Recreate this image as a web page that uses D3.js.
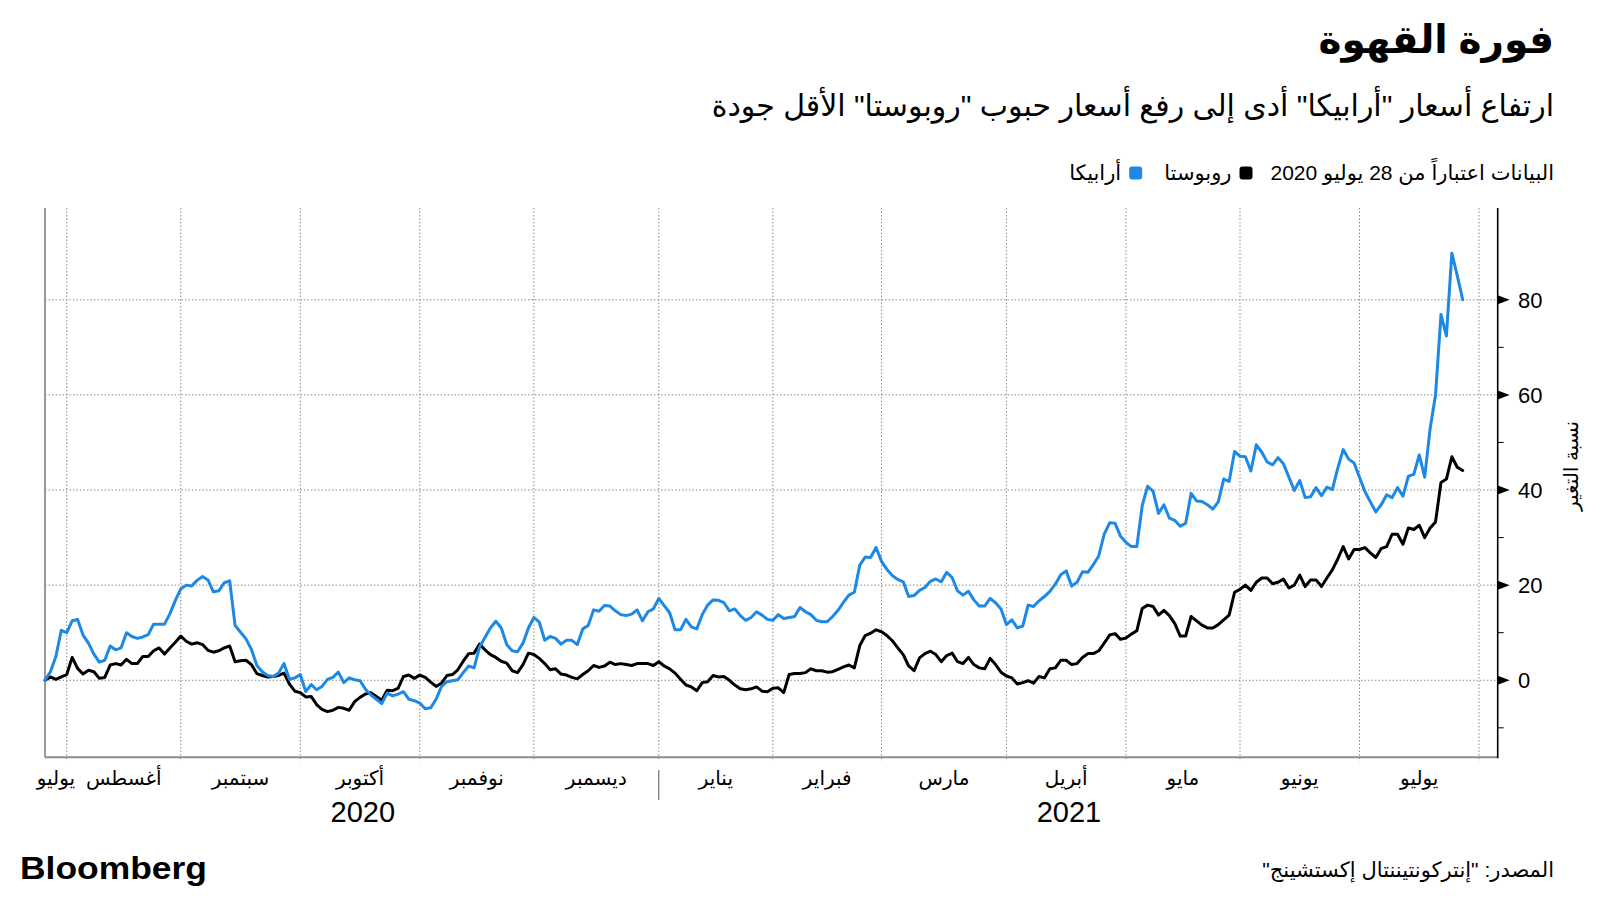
<!DOCTYPE html>
<html><head><meta charset="utf-8">
<script src="https://cdn.jsdelivr.net/npm/d3@7"></script>
<style>
body{margin:0;background:#fff}
svg{display:block}
text{font-family:"Liberation Sans","DejaVu Sans",sans-serif;fill:#000}
</style>
</head><body>
<svg id="chart" width="1600" height="900"></svg>
<script>
// ---------------- data ----------------
const startDate = "2020-07-28";
const endDate = "2021-08-03";
const arabica = [0,1.8,5.0,10.5,10.0,12.5,12.8,9.5,7.8,5.5,
3.8,4.2,7.2,6.4,6.8,10.0,9.2,8.8,9.1,9.6,
11.8,11.8,11.8,14.0,16.8,19.2,20.0,19.8,21.0,21.8,
21.1,18.6,18.8,20.5,20.9,11.5,10.1,8.7,6.5,3.1,
1.8,1.0,0.8,1.5,3.5,0.2,0.5,1.2,-2.4,-0.9,
-2.0,-1.3,0.2,0.6,1.7,-0.5,0.5,0.1,-0.1,-1.9,
-3.1,-4.0,-4.9,-2.7,-3.3,-2.9,-2.4,-4.0,-4.3,-4.8,
-6.0,-5.8,-4.0,-1.3,-0.3,-0.1,0.1,1.6,3.0,2.6,
7.0,9.0,11.0,12.4,11.0,7.5,6.2,6.0,7.8,11.0,
13.2,12.2,8.4,9.2,8.8,7.6,8.4,8.4,7.5,10.8,
11.5,14.8,14.5,15.7,15.6,14.6,13.8,13.6,13.9,14.8,
12.5,14.4,15.0,17.2,15.7,14.2,10.6,10.6,12.8,11.2,
10.8,13.8,15.8,16.9,16.8,16.3,14.6,15.0,13.6,12.6,
13.2,14.4,13.7,12.8,12.6,13.8,13.0,13.2,13.4,15.3,
14.4,13.8,12.6,12.3,12.3,13.4,14.7,16.4,17.9,18.5,
24.2,25.9,25.8,27.9,25.0,23.3,22.0,21.2,20.7,17.6,
17.8,18.9,19.5,20.8,21.3,20.7,22.7,21.6,18.8,17.9,
18.7,16.9,15.6,15.6,17.2,16.3,15.0,11.7,12.7,11.0,
11.4,15.8,15.5,16.7,17.6,18.7,20.2,22.2,23.0,19.8,
20.6,22.8,22.7,24.3,26.2,30.7,33.1,33.0,30.3,29.0,
28.1,28.1,36.7,40.8,39.7,35.1,36.9,34.1,33.6,32.4,
33.0,39.3,37.7,37.6,36.9,36.0,37.5,42.3,41.8,48.1,
47.1,47.0,44.0,49.5,48.0,45.9,45.3,46.8,45.5,42.7,
39.9,42.0,38.4,38.6,40.5,38.8,40.6,40.1,44.6,48.5,
46.5,45.7,42.7,39.7,37.5,35.4,36.9,39.0,38.4,40.5,
38.7,42.9,43.3,47.4,42.7,52.9,60.0,76.9,72.4,89.8,
85.1,80.0];
const robusta = [0,0.7,0.2,0.7,1.2,4.8,2.5,1.3,2.1,1.8,
0.4,0.6,3.2,3.5,3.2,4.4,3.5,3.5,5.0,5.0,
6.2,6.8,5.5,6.8,8.0,9.3,8.2,7.6,7.9,7.5,
6.3,5.9,6.2,6.8,7.2,3.9,4.1,4.2,3.3,1.4,
1.0,0.7,0.8,1.0,1.5,-0.8,-2.3,-2.6,-3.5,-3.4,
-5.1,-6.1,-6.6,-6.3,-5.7,-5.9,-6.3,-4.5,-3.6,-2.9,
-2.6,-3.4,-4.2,-2.1,-2.2,-1.7,0.8,1.1,0.4,1.1,
0.6,-0.4,-1.3,-0.6,1.0,1.2,2.2,4.0,5.6,5.7,
7.6,6.4,5.4,4.8,4.0,3.6,2.0,1.6,3.3,5.7,
5.4,4.6,3.5,2.2,2.4,1.3,1.1,0.6,0.3,1.2,
2.0,3.1,2.7,3.0,3.8,3.3,3.5,3.3,3.1,3.5,
3.5,3.5,3.1,3.9,3.0,2.4,1.5,0.2,-1.0,-1.4,
-2.2,-0.5,-0.3,1.0,0.7,0.8,0.0,-1.0,-1.8,-2.0,
-1.8,-1.4,-2.3,-2.4,-1.7,-1.6,-2.6,1.2,1.4,1.4,
1.6,2.4,2.0,2.0,1.7,1.8,2.3,2.8,3.2,2.6,
7.3,9.4,9.9,10.6,10.2,9.4,8.3,6.8,5.4,3.0,
2.0,4.7,5.6,6.1,5.4,3.9,5.2,5.7,3.9,3.5,
4.8,3.3,2.6,2.4,4.6,3.3,1.7,0.9,0.5,-0.8,
-0.5,-0.1,-0.6,0.8,0.5,2.4,2.6,4.2,4.2,3.3,
3.5,4.8,5.6,5.6,6.2,7.8,9.5,9.8,8.6,8.9,
9.7,10.4,15.1,15.8,15.5,13.7,14.7,13.6,11.9,9.3,
9.3,13.4,12.5,11.6,11.0,11.0,11.7,12.7,13.7,18.5,
19.1,20.0,18.9,20.6,21.5,21.5,20.3,20.6,21.3,19.4,
20.0,22.1,19.7,21.1,21.1,19.7,21.5,23.2,25.5,28.1,
25.5,27.5,27.5,27.9,26.8,25.8,27.7,28.1,30.7,30.7,
28.6,32.0,31.7,32.6,30.0,32.0,33.3,41.6,42.3,47.0,
44.8,44.1];
const monthStarts = ["2020-08-01","2020-09-01","2020-10-01","2020-11-01","2020-12-01","2021-01-01",
  "2021-02-01","2021-03-01","2021-04-01","2021-05-01","2021-06-01","2021-07-01","2021-08-01"];
const monthLabels = ["يوليو","أغسطس","سبتمبر","أكتوبر","نوفمبر","ديسمبر","يناير","فبراير","مارس","أبريل","مايو","يونيو","يوليو"];
const yearLabels = ["2020","2021"];
const yMajor = [0,20,40,60,80];
const yMinor = [-10,10,30,50,70];
const seriesNames = ["روبوستا","أرابيكا"];
const seriesColors = ["#000000","#1e88e5"];

const title = "فورة القهوة";
const subtitle = "ارتفاع أسعار \"أرابيكا\" أدى إلى رفع أسعار حبوب \"روبوستا\" الأقل جودة";
const legendNote = "البيانات اعتباراً من 28 يوليو 2020";
const yTitle = "نسبة التغير";
const source = "المصدر: \"إنتركونتيننتال إكستشينج\"\u200F";

// ---------------- layout ----------------
const L = 45, R = 1497.7, T = 208, B = 757.3;
const svg = d3.select("#chart");

// trading (week) days from start to end
const days = d3.utcDays(new Date(startDate), new Date(endDate))
  .filter(d => d.getUTCDay() !== 0 && d.getUTCDay() !== 6);
const x = d3.scaleLinear().domain([0, days.length - 1]).range([L, 1479]);
const y = d3.scaleLinear().domain([-16.2, 99.3]).range([B, T]);

const monthIdx = monthStarts.map(s => d3.bisectLeft(days, new Date(s)));
const monthX = monthIdx.map(i => x(i));

// ---------------- grid ----------------
const grid = svg.append("g");
grid.selectAll("line.h").data(yMajor).join("line")
  .attr("x1", L).attr("x2", R).attr("y1", d => y(d)).attr("y2", d => y(d))
  .attr("stroke", "#8a8a8a").attr("stroke-width", 1).attr("stroke-dasharray", "1.5,2");
grid.selectAll("line.v").data(monthX).join("line")
  .attr("x1", d => d).attr("x2", d => d).attr("y1", T).attr("y2", B + 4)
  .attr("stroke", "#8a8a8a").attr("stroke-width", 1).attr("stroke-dasharray", "1.5,2");

// axes lines
svg.append("line").attr("x1", L).attr("x2", L).attr("y1", T).attr("y2", B)
  .attr("stroke", "#9a9a9a").attr("stroke-width", 2);
svg.append("line").attr("x1", L).attr("x2", R).attr("y1", B).attr("y2", B)
  .attr("stroke", "#8a8a8a").attr("stroke-width", 2);
svg.append("line").attr("x1", R).attr("x2", R).attr("y1", T).attr("y2", B + 1)
  .attr("stroke", "#000").attr("stroke-width", 1.6);

// y ticks
svg.selectAll("path.tri").data(yMajor).join("path")
  .attr("d", d => `M${R},${y(d) - 4.5}L${R + 12},${y(d)}L${R},${y(d) + 4.5}Z`)
  .attr("fill", "#000");
svg.selectAll("line.minor").data(yMinor).join("line")
  .attr("x1", R).attr("x2", R + 6).attr("y1", d => y(d)).attr("y2", d => y(d))
  .attr("stroke", "#000").attr("stroke-width", 1);
svg.selectAll("text.yt").data(yMajor).join("text")
  .attr("x", 1518).attr("y", d => y(d)).attr("dy", "0.36em")
  .attr("font-size", 22).text(d => d);
svg.append("text").attr("transform", "translate(1571,466) rotate(-90)")
  .attr("text-anchor", "middle").attr("dy", "0.35em").attr("font-size", 20).text(yTitle);

// x labels
const edges = [L, ...monthX];
svg.selectAll("text.mx").data(monthLabels).join("text")
  .attr("x", (d, i) => (edges[i] + edges[i + 1]) / 2).attr("y", 785)
  .attr("text-anchor", "middle").attr("font-size", 20).text(d => d);
const janX = monthX[5];
svg.append("line").attr("x1", janX).attr("x2", janX).attr("y1", 770).attr("y2", 800)
  .attr("stroke", "#555").attr("stroke-width", 1);
const yearX = [(monthX[0] + janX) / 2, (janX + monthX[12]) / 2];
svg.selectAll("text.yr").data(yearLabels).join("text")
  .attr("x", (d, i) => yearX[i]).attr("y", 822).attr("text-anchor", "middle")
  .attr("font-size", 29).text(d => d);

// lines
const line = d3.line().x((d, i) => x(i)).y(d => y(d)).curve(d3.curveLinear);
[robusta, arabica].forEach((s, k) => {
  svg.append("path").datum(s).attr("d", line).attr("fill", "none")
    .attr("stroke", seriesColors[k]).attr("stroke-width", 3)
    .attr("stroke-linejoin", "round").attr("stroke-linecap", "round");
});

// titles
svg.append("text").attr("x", 1554).attr("y", 53).attr("text-anchor", "end")
  .attr("font-size", 39).attr("font-weight", "bold").text(title);
svg.append("text").attr("x", 1554).attr("y", 116).attr("text-anchor", "end")
  .attr("font-size", 30).text(subtitle);

// legend
const lg = svg.append("g");
let cursor = 1554;
const note = lg.append("text").attr("x", cursor).attr("y", 180).attr("text-anchor", "end")
  .attr("font-size", 21).text(legendNote);
cursor -= note.node().getComputedTextLength() + 18;
seriesNames.forEach((n, k) => {
  lg.append("rect").attr("x", cursor - 13).attr("y", 166.5).attr("width", 13).attr("height", 13)
    .attr("rx", 3).attr("fill", seriesColors[k]);
  cursor -= 13 + 8;
  const t = lg.append("text").attr("x", cursor).attr("y", 180).attr("text-anchor", "end")
    .attr("font-size", 21).text(n);
  cursor -= t.node().getComputedTextLength() + 22;
});

// footer
svg.append("text").attr("x", 20).attr("y", 879).attr("font-size", 31).attr("font-weight", "bold")
  .attr("textLength", 187).attr("lengthAdjust", "spacingAndGlyphs")
  .style("font-family", "'Liberation Sans', Arial, sans-serif").text("Bloomberg");
svg.append("text").attr("x", 1554).attr("y", 877).attr("text-anchor", "end")
  .attr("font-size", 21).text(source);
</script>
</body></html>
